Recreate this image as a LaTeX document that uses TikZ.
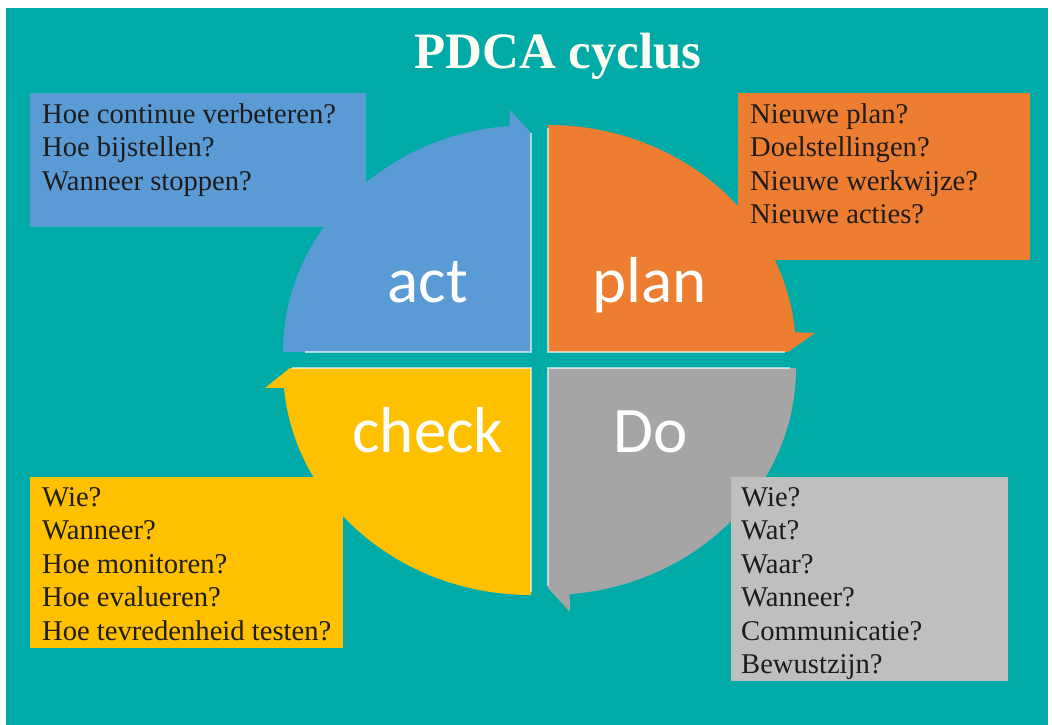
\documentclass[tikz,border=0pt]{standalone}
\usepackage{fontspec}
\setmainfont{Liberation Serif}
\newfontfamily\quadfont{Carlito}
\definecolor{teal}{RGB}{0,171,167}
\definecolor{actblue}{HTML}{5B9BD5}
\definecolor{planorange}{HTML}{ED7D31}
\definecolor{checkyellow}{HTML}{FFC000}
\definecolor{dogray}{HTML}{A5A5A5}
\definecolor{boxgray}{HTML}{BFBFBF}
\definecolor{ink}{RGB}{30,28,26}
\tikzset{
  quadlabel/.style={font=\quadfont\fontsize{65}{65}\selectfont, text=white, anchor=base, inner sep=0},
  boxtext/.style={font=\fontsize{28.6}{33.5}\selectfont, text=ink, align=left, anchor=north west, inner sep=0},
  edgeline/.style={white, opacity=0.6, line width=1.5pt}
}
\begin{document}
\begin{tikzpicture}[x=1pt, y=-1pt]
		%%%%% BACKGROUND %%%%%
		\useasboundingbox (0, 0) rectangle (1052, 725);
		\fill[white] (0, 0) rectangle (1052, 725);
		\fill[teal] (6, 8) rectangle (1048, 725);
		
		\node[font=\bfseries\fontsize{51}{51}\selectfont, text=white!95!yellow, anchor=base, inner sep=0] (title) at (558, 68) {PDCA cyclus};
		
		%%%%% QUADRANTS %%%%%
		% act
		\fill[actblue] (531, 352) -- (283, 352) arc[start angle=180, end angle=265, x radius=248, y radius=227] -- (510, 110) -- (531, 133) -- cycle;
		\draw[edgeline] (531, 133) -- (531, 352) -- (305, 352);
		
		% plan
		\fill[planorange] (548, 352) -- (548, 125) arc[start angle=270, end angle=355, x radius=248, y radius=227] -- (815, 333) -- (788, 352) -- cycle;
		\draw[edgeline] (548, 128) -- (548, 352) -- (785, 352);
		
		% Do
		\fill[dogray] (548, 368) -- (796, 368) arc[start angle=0, end angle=85, x radius=248, y radius=227] -- (570, 612) -- (548, 588) -- cycle;
		\draw[edgeline] (790, 368) -- (548, 368) -- (548, 586);
		
		% check
		\fill[checkyellow] (531, 368) -- (531, 595) arc[start angle=90, end angle=175, x radius=248, y radius=227] -- (265, 388) -- (290, 368) -- cycle;
		\draw[edgeline] (292, 368) -- (531, 368) -- (531, 592);
		
		\node[quadlabel] (act) at (428, 302) {act};
		\node[quadlabel] (plan) at (650, 302) {plan};
		\node[quadlabel] (check) at (428, 452) {check};
		\node[quadlabel] (do) at (651, 452) {Do};
		
		%%%%% QUESTION BOXES %%%%%
		\fill[actblue] (30, 93) rectangle (366, 227);
		\node[boxtext] (actq) at (42, 103) {Hoe continue verbeteren?\\Hoe bijstellen?\\Wanneer stoppen?};
		
		\fill[planorange] (738, 93) rectangle (1030, 260);
		\node[boxtext] (planq) at (750, 103) {Nieuwe plan?\\Doelstellingen?\\Nieuwe werkwijze?\\Nieuwe acties?};
		
		\fill[checkyellow] (30, 477) rectangle (343, 648);
		\node[boxtext] (checkq) at (42, 487) {Wie?\\Wanneer?\\Hoe monitoren?\\Hoe evalueren?\\Hoe tevredenheid testen?};
		
		\fill[boxgray] (731, 477) rectangle (1008, 681);
		\node[boxtext] (doq) at (741, 487) {Wie?\\Wat?\\Waar?\\Wanneer?\\Communicatie?\\Bewustzijn?};
		%%%%% END %%%%%
	\end{tikzpicture}
\end{document}
